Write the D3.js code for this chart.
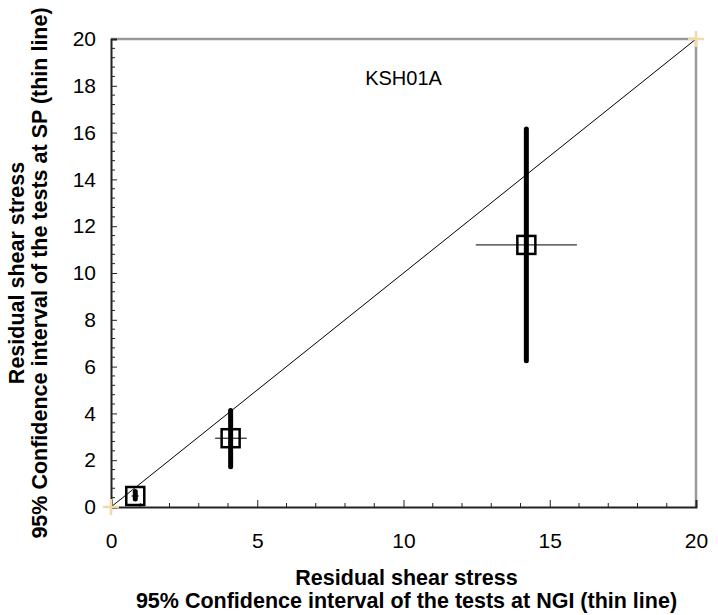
<!DOCTYPE html>
<html>
<head>
<meta charset="utf-8">
<script src="https://cdn.jsdelivr.net/npm/d3@7"></script>
<style>
  body { margin: 0; background: #fff; }
  svg text { font-family: Arial, "Liberation Sans", sans-serif; }
</style>
</head>
<body>
<div id="chart"></div>
<script>
// values
var ngiMean = [0.83, 4.09, 14.2];
var ngiLow  = [0.7, 3.56, 12.47];
var ngiHigh = [0.95, 4.64, 15.93];
var spMean  = [0.47, 2.94, 11.2];
var spLow   = [0.34, 1.72, 6.25];
var spHigh  = [0.66, 4.12, 16.15];

var xTicks = [0, 5, 10, 15, 20];
var yTicks = [0, 2, 4, 6, 8, 10, 12, 14, 16, 18, 20];
var chartLabel = "KSH01A";

var W = 718, H = 615;
var margin = {left: 111, top: 39, right: 22, bottom: 108};
var w = W - margin.left - margin.right,
    h = H - margin.top - margin.bottom;

var svg = d3.select("#chart").append("svg")
    .attr("width", W)
    .attr("height", H);

var g = svg.append("g")
    .attr("transform", "translate(" + margin.left + "," + margin.top + ")");

var x = d3.scaleLinear().domain([0, 20]).range([0, w]);
var y = d3.scaleLinear().domain([0, 20]).range([h, 0]);

// top + right frame (grey)
g.append("path")
    .attr("d", "M0," + y(20) + "H" + x(20) + "V" + y(0))
    .attr("fill", "none")
    .attr("stroke", "#999")
    .attr("stroke-width", 2.5);

// minor ticks
var xMinor = d3.range(0, 21, 1).filter(function(v){ return v % 5 != 0; });
var yMinor = d3.range(0, 50).map(function(i){ return +(i * 0.4).toFixed(1); })
    .filter(function(v){ return v % 2 != 0; });

g.selectAll(".xminor").data(xMinor).enter().append("line")
    .attr("x1", function(d){ return x(d); })
    .attr("x2", function(d){ return x(d); })
    .attr("y1", h).attr("y2", h - 4)
    .attr("stroke", "#222").attr("stroke-width", 1);

g.selectAll(".yminor").data(yMinor).enter().append("line")
    .attr("y1", function(d){ return y(d); })
    .attr("y2", function(d){ return y(d); })
    .attr("x1", 0).attr("x2", 4)
    .attr("stroke", "#222").attr("stroke-width", 1);

// axes (major ticks inside)
var xAxis = g.append("g")
    .attr("transform", "translate(0," + h + ")")
    .call(d3.axisBottom(x).tickValues(xTicks).tickSize(-7).tickPadding(0).tickFormat(d3.format("d")));
var yAxis = g.append("g")
    .call(d3.axisLeft(y).tickValues(yTicks).tickSize(-6).tickFormat(d3.format("d")));

xAxis.select(".domain").attr("stroke", "#222").attr("stroke-width", 2);
yAxis.select(".domain").attr("stroke", "#222").attr("stroke-width", 2);
xAxis.selectAll(".tick line").attr("stroke", "#222");
yAxis.selectAll(".tick line").attr("stroke", "#222");

xAxis.selectAll(".tick text")
    .attr("y", 26).attr("dy", "0.71em")
    .style("font-size", "21px").attr("fill", "#000");
yAxis.selectAll(".tick text")
    .attr("x", -15)
    .style("font-size", "21px").attr("fill", "#000");

// 1:1 line
g.append("line")
    .attr("x1", x(0)).attr("y1", y(0))
    .attr("x2", x(20)).attr("y2", y(20))
    .attr("stroke", "#000").attr("stroke-width", 1);

// corner markers
g.selectAll(".corner").data([0, 20]).enter().append("path")
    .attr("d", function(d){
        var cx = x(d), cy = y(d);
        return "M" + (cx - 8) + "," + cy + "H" + (cx + 8) + "M" + cx + "," + (cy - 8) + "V" + (cy + 8);
    })
    .attr("stroke", "#f2d9a8").attr("stroke-width", 2.5);

var idx = d3.range(ngiMean.length);

// thin NGI intervals
g.selectAll(".ngi").data(idx).enter().append("line")
    .attr("x1", function(i){ return x(ngiLow[i]); })
    .attr("x2", function(i){ return x(ngiHigh[i]); })
    .attr("y1", function(i){ return y(spMean[i]); })
    .attr("y2", function(i){ return y(spMean[i]); })
    .attr("stroke", "#000").attr("stroke-width", 1);

// thick SP intervals
g.selectAll(".sp").data(idx).enter().append("line")
    .attr("x1", function(i){ return x(ngiMean[i]); })
    .attr("x2", function(i){ return x(ngiMean[i]); })
    .attr("y1", function(i){ return y(spLow[i]); })
    .attr("y2", function(i){ return y(spHigh[i]); })
    .attr("stroke", "#000").attr("stroke-width", 5)
    .attr("stroke-linecap", "round");

// square markers
var s = 18;
g.selectAll(".pt").data(idx).enter().append("rect")
    .attr("x", function(i){ return x(ngiMean[i]) - s / 2; })
    .attr("y", function(i){ return y(spMean[i]) - s / 2; })
    .attr("width", s).attr("height", s)
    .attr("fill", "none")
    .attr("stroke", "#000").attr("stroke-width", 2.5);

// label inside plot
g.append("text")
    .attr("x", x(10)).attr("y", y(18.05))
    .attr("text-anchor", "middle")
    .style("font-size", "20px")
    .text(chartLabel);

// axis titles
var xt = svg.append("text")
    .attr("text-anchor", "middle")
    .style("font-size", "21.5px").attr("font-weight", "bold");
xt.append("tspan").attr("x", margin.left + w / 2 + 3).attr("y", 585).text("Residual shear stress");
xt.append("tspan").attr("x", margin.left + w / 2 + 3).attr("y", 608).text("95% Confidence interval of the tests at NGI (thin line)");

var yt = svg.append("text")
    .attr("text-anchor", "middle")
    .style("font-size", "21.5px").attr("font-weight", "bold")
    .attr("transform", "translate(0," + (margin.top + h / 2) + ") rotate(-90)");
yt.append("tspan").attr("x", 0).attr("y", 24).text("Residual shear stress");
yt.append("tspan").attr("x", 0).attr("y", 47).text("95% Confidence interval of the tests at SP (thin line)");
</script>
</body>
</html>
